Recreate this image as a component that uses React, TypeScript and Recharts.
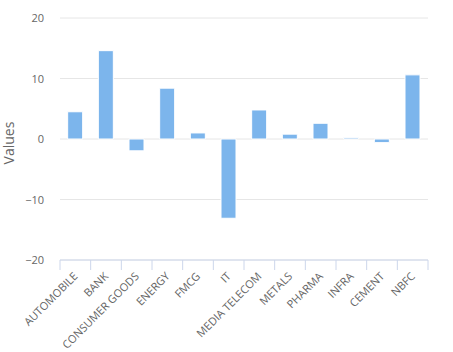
import React from 'react';
import { BarChart, Bar, XAxis, YAxis, CartesianGrid } from 'recharts';

const categories = ['AUTOMOBILE', 'BANK', 'CONSUMER GOODS', 'ENERGY', 'FMCG', 'IT', 'MEDIA TELECOM', 'METALS', 'PHARMA', 'INFRA', 'CEMENT', 'NBFC'];
const values = [4.5, 14.6, -1.95, 8.4, 1.0, -13.1, 4.8, 0.8, 2.6, 0.2, -0.6, 10.6];
const yTicks = [-20, -10, 0, 10, 20];

const data = categories.map((c, i) => ({ name: c, value: values[i] }));

const FONT = '"Open Sans", sans-serif';
const N = categories.length;
const PLOT_W = 368;

const fmt = (v: number) => (v < 0 ? '\u2212' + Math.abs(v) : String(v));

const XTick = (props: any) => {
  const { x, y, payload, index } = props;
  const half = PLOT_W / N / 2;
  const top = y - 8;
  const ax = x + 3;
  const ay = top + 17;
  return (
    <g>
      <line x1={x - half} x2={x - half} y1={top} y2={top + 10} stroke="#ccd6eb" strokeWidth={1} />
      {index === N - 1 && (
        <line x1={x + half} x2={x + half} y1={top} y2={top + 10} stroke="#ccd6eb" strokeWidth={1} />
      )}
      <text
        x={ax}
        y={ay}
        textAnchor="end"
        transform={`rotate(-45 ${ax} ${ay})`}
        fill="#666666"
        fontSize={11}
        fontFamily={FONT}
      >
        {payload.value}
      </text>
    </g>
  );
};

const YTick = (props: any) => {
  const { y, payload } = props;
  return (
    <text x={44} y={y + 4} textAnchor="end" fill="#666666" fontSize={11} fontFamily={FONT}>
      {fmt(payload.value)}
    </text>
  );
};

const YLabel = (props: any) => {
  const vb = props.viewBox || { x: 0, y: 0, height: 0 };
  const cx = vb.x + 14;
  const cy = vb.y + vb.height / 2 + 4;
  return (
    <text
      x={cx}
      y={cy}
      textAnchor="middle"
      transform={`rotate(-90 ${cx} ${cy})`}
      fill="#666666"
      fontSize={14}
      fontFamily={FONT}
    >
      Values
    </text>
  );
};

export default function App() {
  return (
    <div style={{ position: 'absolute', left: 0, top: 0, width: 453, height: 352 }}>
      <BarChart
        width={453}
        height={352}
        data={data}
        margin={{ top: 18, right: 25, bottom: 0, left: 0 }}
        barCategoryGap="25%"
      >
        <CartesianGrid vertical={false} stroke="#e6e6e6" strokeDasharray="" />
        <XAxis
          dataKey="name"
          interval={0}
          height={92}
          axisLine={{ stroke: '#ccd6eb' }}
          tickLine={false}
          tick={<XTick />}
        />
        <YAxis
          width={60}
          domain={[-20, 20]}
          ticks={yTicks}
          axisLine={false}
          tickLine={false}
          tick={<YTick />}
          label={<YLabel />}
        />
        <Bar dataKey="value" fill="#7cb5ec" stroke="#ffffff" strokeWidth={1} isAnimationActive={false} />
      </BarChart>
    </div>
  );
}
